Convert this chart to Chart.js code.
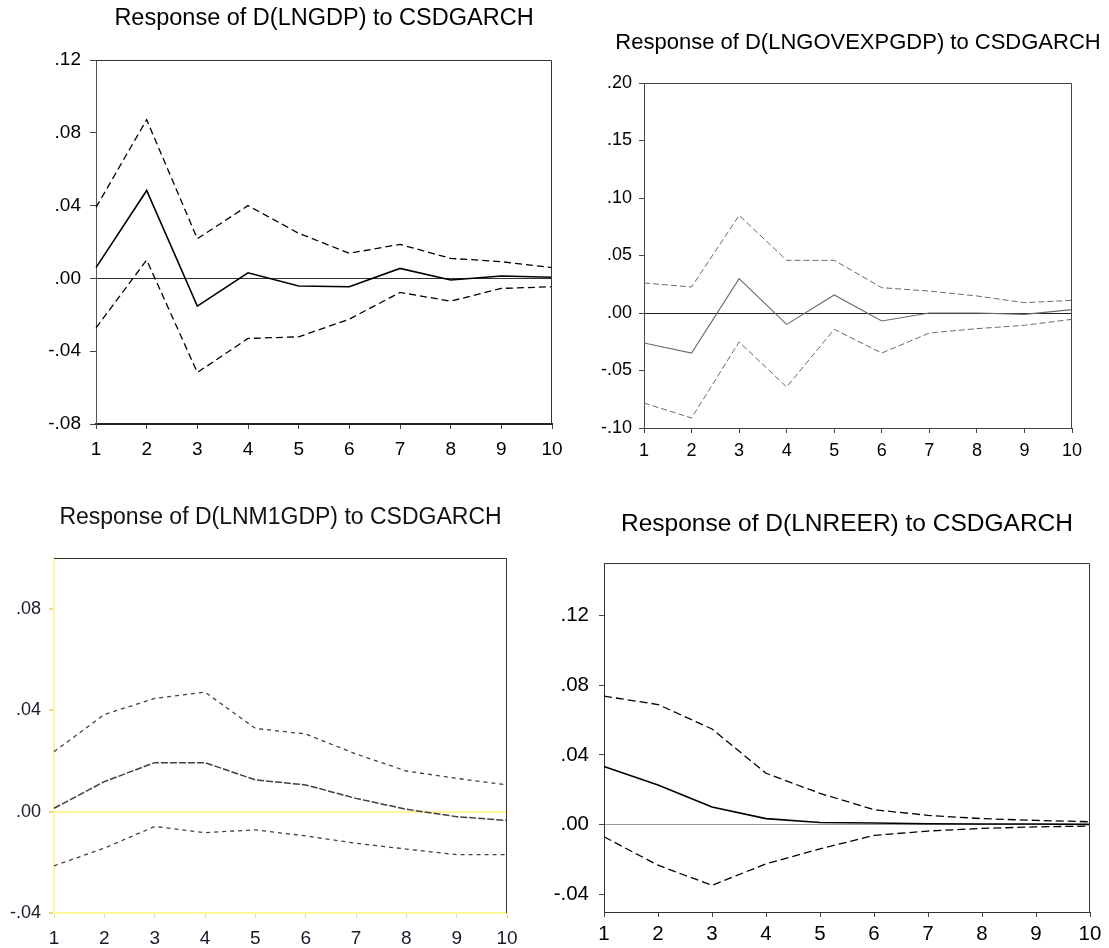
<!DOCTYPE html>
<html>
<head>
<meta charset="utf-8">
<script src="https://cdn.jsdelivr.net/npm/chart.js@4.4.0/dist/chart.umd.min.js"></script>
<style>
html,body{margin:0;background:#fff;overflow:hidden}
body{width:1109px;height:948px;position:relative}
canvas{position:absolute}
</style>
</head>
<body>
<canvas id="c1" width="648" height="470" style="left:0px;top:0px"></canvas>
<canvas id="c2" width="536" height="470" style="left:590px;top:0px"></canvas>
<canvas id="c3" width="561" height="468" style="left:0px;top:480px"></canvas>
<canvas id="c4" width="604" height="468" style="left:545px;top:480px"></canvas>
<script>

// periods after the shock
var steps = ['1','2','3','4','5','6','7','8','9','10'];

// D(LNGDP)
var gdpMid = [0.0059, 0.0483, -0.0152, 0.0031, -0.0042, -0.0046, 0.0055, -0.0009, 0.0013, 0.0006];
var gdpUp  = [0.0390, 0.0872, 0.0218, 0.0400, 0.0248, 0.0138, 0.0187, 0.0110, 0.0092, 0.0059];
var gdpLo  = [-0.0272, 0.0101, -0.0517, -0.0330, -0.0321, -0.0224, -0.0077, -0.0125, -0.0055, -0.0046];
var gdpTicks = [-0.08, -0.04, 0, 0.04, 0.08, 0.12];

// D(LNGOVEXPGDP)
var govMid = [-0.0261, -0.0348, 0.0299, -0.0099, 0.0157, -0.0070, 0.0000, 0.0000, -0.0012, 0.0029];
var govUp  = [0.0261, 0.0226, 0.0849, 0.0458, 0.0458, 0.0220, 0.0191, 0.0148, 0.0090, 0.0110];
var govLo  = [-0.0783, -0.0913, -0.0252, -0.0643, -0.0142, -0.0348, -0.0174, -0.0136, -0.0107, -0.0055];
var govTicks = [-0.10, -0.05, 0, 0.05, 0.10, 0.15, 0.20];

// D(LNM1GDP)
var m1Mid = [0.0013, 0.0118, 0.0193, 0.0193, 0.0125, 0.0105, 0.0052, 0.0009, -0.0020, -0.0035];
var m1Up  = [0.0236, 0.0383, 0.0446, 0.0471, 0.0328, 0.0306, 0.0227, 0.0160, 0.0131, 0.0105];
var m1Lo  = [-0.0214, -0.0144, -0.0059, -0.0083, -0.0072, -0.0096, -0.0125, -0.0148, -0.0170, -0.0170];
var m1Ticks = [-0.04, 0, 0.04, 0.08];

// D(LNREER)
var reerMid = [0.0334, 0.0228, 0.0102, 0.0035, 0.0013, 0.0010, 0.0006, 0.0004, 0.0004, 0.0002];
var reerUp  = [0.0737, 0.0689, 0.0549, 0.0295, 0.0180, 0.0086, 0.0054, 0.0035, 0.0025, 0.0017];
var reerLo  = [-0.0069, -0.0232, -0.0347, -0.0224, -0.0138, -0.0061, -0.0036, -0.0021, -0.0012, -0.0008];
var reerTicks = [-0.04, 0, 0.04, 0.08, 0.12];

var FONT = "'Liberation Sans', Arial, sans-serif";

// top and right edges of the box
var frame = {
	id: 'frame',
	afterDraw: function(chart, args, opts){
		var a = chart.chartArea, c = chart.ctx;
		var t = Math.round(a.top) + 0.5, r = Math.round(a.right) - 0.5;
		c.save();
		c.strokeStyle = opts.color; c.lineWidth = 1;
		c.beginPath();
		c.moveTo(a.left, t); c.lineTo(r, t); c.lineTo(r, a.bottom);
		c.stroke();
		c.restore();
	}
};

function fmt(v){
	return Number(v).toFixed(2).replace(/^(-?)0\./, '$1.');
}

function makeChart(id, s){
	var line = { pointRadius: 0, fill: false, tension: 0, yAxisID: 'y' };
	new Chart(id, {
		type: 'line',
		data: {
			labels: steps,
			datasets: [
				Object.assign({ data: s.up, borderColor: s.lineColor, borderWidth: s.bandWidth, borderDash: s.dash }, line),
				Object.assign({ data: s.mid, borderColor: s.lineColor, borderWidth: s.midWidth, borderDash: s.midDash || [] }, line),
				Object.assign({ data: s.lo, borderColor: s.lineColor, borderWidth: s.bandWidth, borderDash: s.dash }, line)
			]
		},
		options: {
			responsive: false,
			animation: false,
			layout: { padding: 0 },
			plugins: {
				legend: { display: false },
				tooltip: { enabled: false },
				title: {
					display: true,
					text: s.title,
					color: s.titleColor || '#000',
					font: { family: FONT, size: s.titleSize, weight: 'normal' },
					padding: { top: s.titleTop, bottom: s.titleBottom }
				},
				frame: { color: s.frameColor }
			},
			scales: {
				x: {
					offset: false,
					afterFit: function(sc){ sc.height = s.xHeight; },
					grid: { drawOnChartArea: false, tickLength: 5, tickColor: s.tickColor },
					border: { color: s.bottomColor, width: s.bottomWidth || s.axisWidth },
					ticks: { color: s.labelColor || '#000', font: { family: FONT, size: s.xFont }, padding: s.xPad, maxRotation: 0, autoSkip: false }
				},
				y: {
					min: s.min, max: s.max,
					afterFit: function(sc){ sc.width = s.yWidth; },
					afterBuildTicks: function(sc){ sc.ticks = s.ticks.map(function(v){ return { value: v }; }); },
					grid: {
						drawOnChartArea: true,
						tickLength: s.yTick,
						tickColor: s.tickColor,
						lineWidth: s.zeroWidth,
						color: function(ctx){ return ctx.tick && Math.abs(ctx.tick.value) < 1e-9 ? s.zeroColor : 'rgba(0,0,0,0)'; }
					},
					border: { color: s.leftColor, width: s.axisWidth },
					ticks: { color: s.labelColor || '#000', font: { family: FONT, size: s.yFont }, padding: s.yPad, callback: fmt }
				},
				// empty right-hand axis, same width as the left one, so the title sits over the plot box
				yPad: {
					position: 'right',
					afterFit: function(sc){ sc.width = s.yWidth; },
					grid: { display: false },
					border: { display: false },
					ticks: { display: false }
				}
			}
		},
		plugins: [frame]
	});
}

makeChart('c1', {
	title: 'Response of D(LNGDP) to CSDGARCH', titleSize: 23.5, titleTop: 4.9, titleBottom: 26.9,
	mid: gdpMid, up: gdpUp, lo: gdpLo, ticks: gdpTicks, min: -0.08, max: 0.12,
	lineColor: '#000', midWidth: 1.6, bandWidth: 1.3, dash: [7, 4],
	zeroColor: '#333', zeroWidth: 1, frameColor: '#333', leftColor: '#555', bottomColor: '#222', tickColor: '#444', axisWidth: 1, bottomWidth: 2,
	yWidth: 96, yTick: 6, xHeight: 46, xFont: 19, yFont: 19, xPad: 9, yPad: 9
});

makeChart('c2', {
	title: 'Response of D(LNGOVEXPGDP) to CSDGARCH', titleSize: 22, titleTop: 29.8, titleBottom: 26.8,
	mid: govMid, up: govUp, lo: govLo, ticks: govTicks, min: -0.10, max: 0.20,
	lineColor: '#6a6a6a', midWidth: 1.1, bandWidth: 1, dash: [6, 3],
	zeroColor: '#222', zeroWidth: 1, frameColor: '#444', leftColor: '#444', bottomColor: '#444', tickColor: '#444', axisWidth: 1,
	yWidth: 54, yTick: 5, xHeight: 42, xFont: 18, yFont: 18, xPad: 7.5, yPad: 7
});

makeChart('c3', {
	title: 'Response of D(LNM1GDP) to CSDGARCH', titleSize: 23, titleTop: 24.2, titleBottom: 26.2, titleColor: '#111',
	mid: m1Mid, up: m1Up, lo: m1Lo, ticks: m1Ticks, min: -0.04, max: 0.10,
	lineColor: '#4a3c38', midWidth: 1.5, midDash: [7, 2], bandWidth: 1.3, dash: [4, 4],
	zeroColor: '#fff59a', zeroWidth: 2, frameColor: '#333', leftColor: '#fff59a', bottomColor: '#fff59a', tickColor: '#e8d98a', axisWidth: 2,
	yWidth: 54, yTick: 5, xHeight: 35, xFont: 19, yFont: 18, xPad: 9.5, yPad: 8, labelColor: '#1a1a2a'
});

makeChart('c4', {
	title: 'Response of D(LNREER) to CSDGARCH', titleSize: 24.5, titleTop: 29.3, titleBottom: 24.3,
	mid: reerMid, up: reerUp, lo: reerLo, ticks: reerTicks, min: -0.05, max: 0.15,
	lineColor: '#000', midWidth: 1.6, bandWidth: 1.3, dash: [8, 4],
	zeroColor: '#999', zeroWidth: 1, frameColor: '#333', leftColor: '#333', bottomColor: '#333', tickColor: '#444', axisWidth: 1,
	yWidth: 59, yTick: 5, xHeight: 36, xFont: 20.5, yFont: 20.5, xPad: 5, yPad: 10
});

</script>
</body>
</html>
